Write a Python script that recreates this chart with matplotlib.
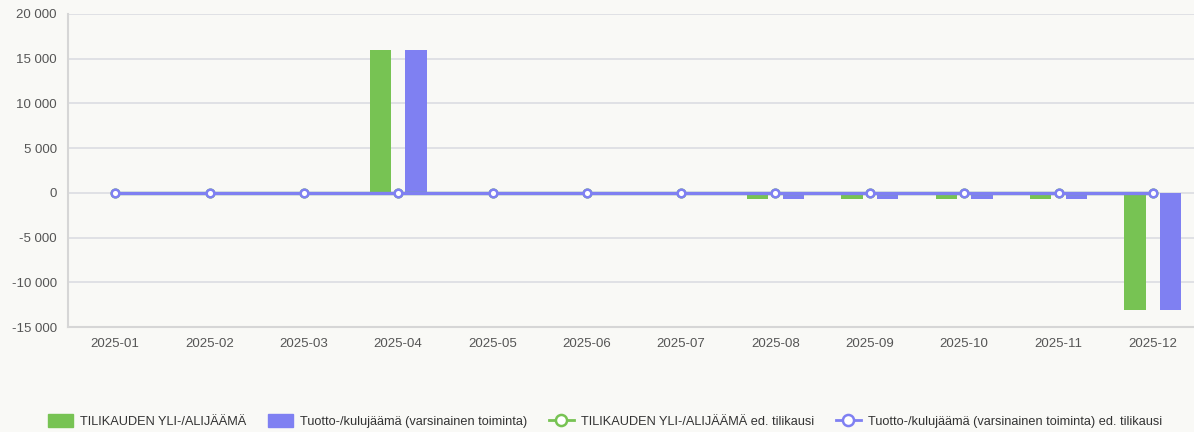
import numpy as np
import matplotlib
matplotlib.use("Agg")
import matplotlib.pyplot as plt
from matplotlib.patches import Patch
from matplotlib.lines import Line2D
from matplotlib.ticker import FuncFormatter

months = ['2025-01', '2025-02', '2025-03', '2025-04', '2025-05', '2025-06',
          '2025-07', '2025-08', '2025-09', '2025-10', '2025-11', '2025-12']
yli_ali = [0, 0, 0, 16000, 0, 0, 0, -700, -700, -700, -700, -13100]
tuotto_kulu = [0, 0, 0, 16000, 0, 0, 0, -700, -700, -700, -700, -13100]
yli_ali_prev = [0] * 12
tuotto_kulu_prev = [0] * 12
labels = ['TILIKAUDEN YLI-/ALIJÄÄMÄ',
          'Tuotto-/kulujäämä (varsinainen toiminta)',
          'TILIKAUDEN YLI-/ALIJÄÄMÄ ed. tilikausi',
          'Tuotto-/kulujäämä (varsinainen toiminta) ed. tilikausi']

GREEN = '#77c353'
BLUE = '#7f80f2'
BG = '#f9f9f6'
GRID = '#dcdde2'
TXT = '#555555'

plt.rcParams['font.family'] = ['Liberation Sans', 'DejaVu Sans']

fig = plt.figure(figsize=(11.94, 4.32), dpi=100, facecolor=BG)
ax = fig.add_axes([68 / 1194, (432 - 327) / 432, 1132 / 1194, 313 / 432])
ax.set_facecolor(BG)

x = np.arange(len(months))
off, bw = 0.19, 0.225
ax.bar(x - off, yli_ali, bw, color=GREEN, zorder=2)
ax.bar(x + off, tuotto_kulu, bw, color=BLUE, zorder=2)
ax.plot(x, yli_ali_prev, color=GREEN, lw=2.4, marker='o', ms=5.5,
        mfc='white', mec=GREEN, mew=1.8, zorder=3)
ax.plot(x, tuotto_kulu_prev, color=BLUE, lw=2.4, marker='o', ms=5.5,
        mfc='white', mec=BLUE, mew=1.8, zorder=4)

ax.set_xlim(-0.5, 11.5)
ax.set_ylim(-15000, 20000)
ax.set_yticks(range(-15000, 20001, 5000))
ax.yaxis.set_major_formatter(FuncFormatter(lambda v, p: f'{int(v):,}'.replace(',', ' ')))
ax.set_xticks(x)
ax.set_xticklabels(months)
ax.tick_params(length=0, labelsize=9.5, labelcolor=TXT, pad=8)
ax.grid(axis='y', color=GRID, lw=1.2, zorder=0)
for s in ('top', 'right'):
    ax.spines[s].set_visible(False)
for s in ('left', 'bottom'):
    ax.spines[s].set_color('#d6d6d6')
    ax.spines[s].set_linewidth(1.5)

handles = [Patch(facecolor=GREEN, edgecolor=GREEN),
           Patch(facecolor=BLUE, edgecolor=BLUE),
           Line2D([], [], color=GREEN, lw=2, marker='o', ms=8, mfc='white', mec=GREEN, mew=1.8),
           Line2D([], [], color=BLUE, lw=2, marker='o', ms=8, mfc='white', mec=BLUE, mew=1.8)]
fig.legend(handles, labels, loc='center', bbox_to_anchor=(605 / 1194, 1 - 421 / 432), ncol=4,
           frameon=False, fontsize=9.2, handlelength=1.95, handleheight=1.1,
           handletextpad=0.55, columnspacing=1.7, labelcolor='#333333')

fig.savefig('out.png', dpi=100, facecolor=BG)
